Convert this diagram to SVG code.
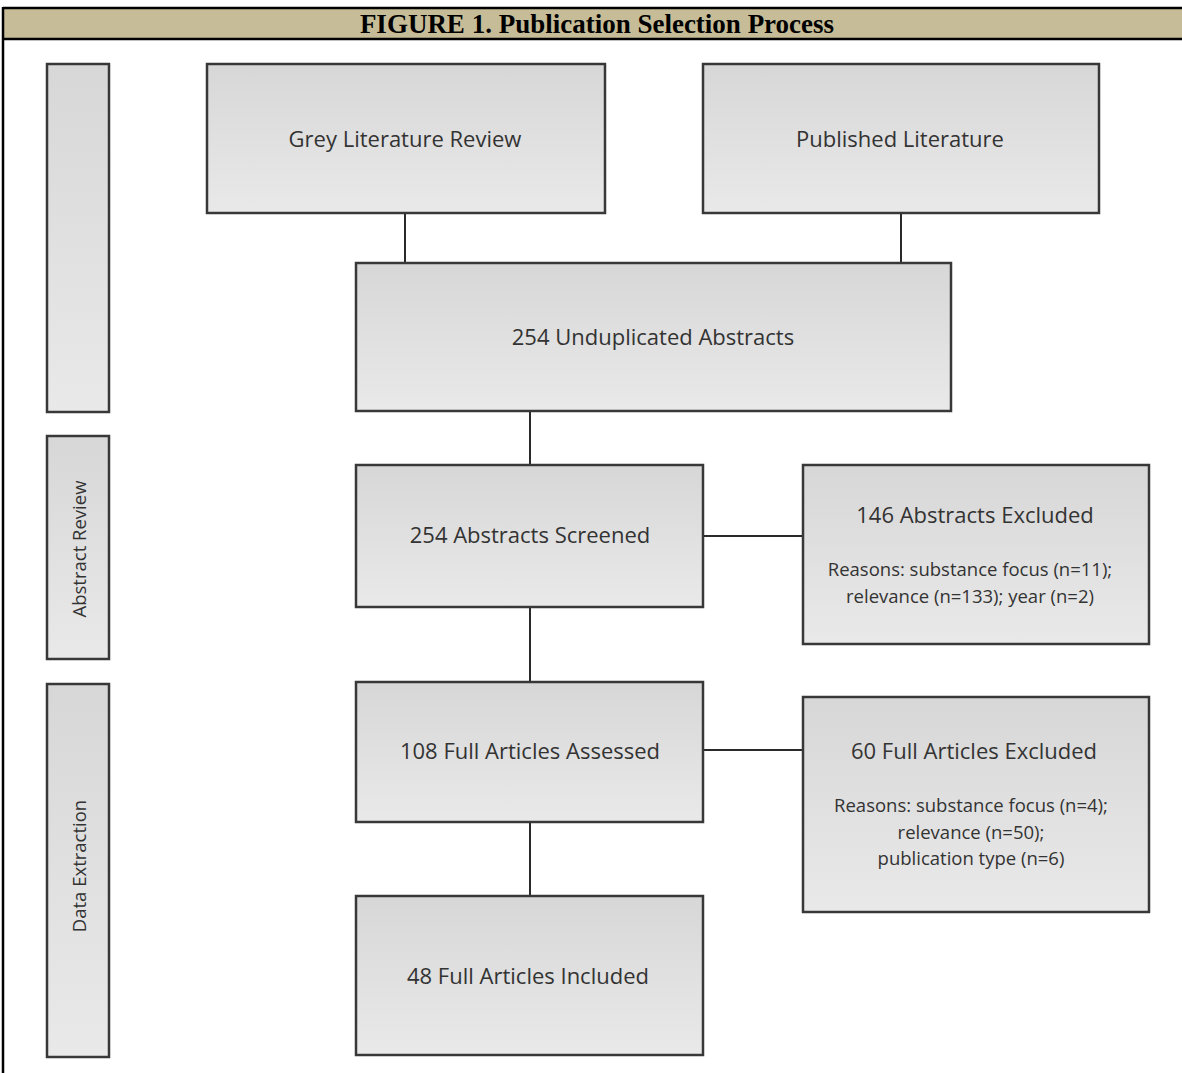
<svg xmlns="http://www.w3.org/2000/svg" width="1182" height="1073" viewBox="0 0 1182 1073">
<defs>
<linearGradient id="g" x1="0" y1="0" x2="0" y2="1">
<stop offset="0" stop-color="#d7d7d7"/>
<stop offset="1" stop-color="#e9e9e9"/>
</linearGradient>
<style>
.box{fill:url(#g);stroke:#383838;stroke-width:2.5}
.t{font-family:"Open Sans","Noto Sans",sans-serif;font-size:22px;fill:#333;text-anchor:middle;dominant-baseline:central}
.s{font-size:18.5px}
.v{font-size:18.5px}
.c{stroke:#2a2a2a;stroke-width:2;fill:none}
</style>
</defs>
<rect x="0" y="0" width="1182" height="1073" fill="#ffffff"/>
<g id="header">
<rect x="3" y="8" width="1179" height="31" fill="#c6bd98"/>
<line x1="3" y1="8" x2="1182" y2="8" stroke="#000" stroke-width="2.5"/>
<line x1="3" y1="39" x2="1182" y2="39" stroke="#000" stroke-width="2.5"/>
<line x1="3" y1="7" x2="3" y2="1073" stroke="#000" stroke-width="2.5"/>
<text x="597" y="33" font-family="'Liberation Serif',serif" font-weight="bold" font-size="27" text-anchor="middle" fill="#000">FIGURE 1. Publication Selection Process</text>
</g>
<g id="connectors">
<path class="c" d="M405 213V263M901 213V263M530 411V465M530 607V682M530 822V896M703 536H803M703 750H803"/>
</g>
<g id="bar-identification">
<rect class="box" x="47" y="64" width="62" height="348"/>
</g>
<g id="bar-abstract-review">
<rect class="box" x="47" y="436" width="62" height="223"/>
<text class="t v" transform="translate(78 549) rotate(-90)">Abstract Review</text>
</g>
<g id="bar-data-extraction">
<rect class="box" x="47" y="684" width="62" height="373"/>
<text class="t v" transform="translate(78 866) rotate(-90)">Data Extraction</text>
</g>
<g id="grey-literature">
<rect class="box" x="207" y="64" width="398" height="149"/>
<text class="t" x="405" y="138">Grey Literature Review</text>
</g>
<g id="published-literature">
<rect class="box" x="703" y="64" width="396" height="149"/>
<text class="t" x="900" y="138">Published Literature</text>
</g>
<g id="unduplicated">
<rect class="box" x="356" y="263" width="595" height="148"/>
<text class="t" x="653" y="336">254 Unduplicated Abstracts</text>
</g>
<g id="screened">
<rect class="box" x="356" y="465" width="347" height="142"/>
<text class="t" x="530" y="534">254 Abstracts Screened</text>
</g>
<g id="abstracts-excluded">
<rect class="box" x="803" y="465" width="346" height="179"/>
<text class="t" x="975" y="514">146 Abstracts Excluded</text>
<text class="t s" x="970" y="568">Reasons: substance focus (n=11);</text>
<text class="t s" x="970" y="595">relevance (n=133); year (n=2)</text>
</g>
<g id="full-assessed">
<rect class="box" x="356" y="682" width="347" height="140"/>
<text class="t" x="530" y="750">108 Full Articles Assessed</text>
</g>
<g id="full-excluded">
<rect class="box" x="803" y="697" width="346" height="215"/>
<text class="t" x="974" y="750">60 Full Articles Excluded</text>
<text class="t s" x="971" y="804">Reasons: substance focus (n=4);</text>
<text class="t s" x="971" y="831">relevance (n=50);</text>
<text class="t s" x="971" y="857">publication type (n=6)</text>
</g>
<g id="full-included">
<rect class="box" x="356" y="896" width="347" height="159"/>
<text class="t" x="528" y="975">48 Full Articles Included</text>
</g>
</svg>
